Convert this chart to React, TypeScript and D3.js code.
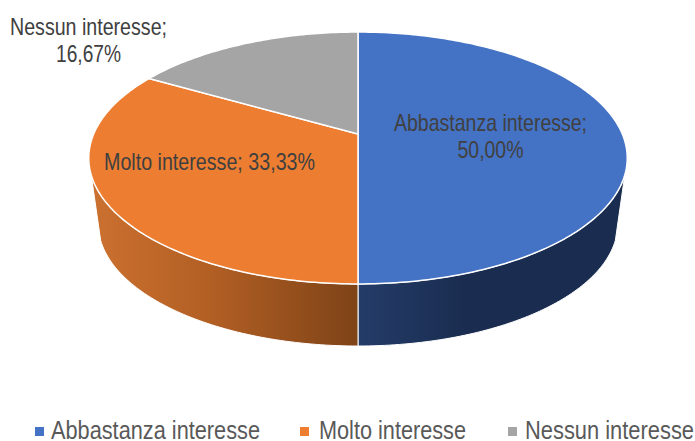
import React from "react";
import * as d3 from "d3";

const categories = ["Abbastanza interesse", "Molto interesse", "Nessun interesse"];
const shares = [50.0, 33.33, 16.67];
const colors = ["#4472C4", "#ED7D31", "#A5A5A5"];

// one text block per slice, lines split where the original wraps
const labelLines = [
  { x: 490.5, y: [131, 158], w: [193, 66] },
  { x: 209.5, y: [170], w: [211] },
  { x: 88.5, y: [35, 62], w: [157, 65] },
];
const legendX = [35, 300, 508];
const legendTextX = [51, 319, 525];
const legendTextW = [209, 147, 169];

const width = 695;
const height = 441;
const cx = 358;

// perspective disc: unit circle -> screen
const tilt = -0.1905;
const top = { ax: 264.3, ay: 121.4, cy: 134 };
const bottom = { ax: 255, ay: 117.8, cy: 200.5 };
const wallStart = (108.5 * Math.PI) / 180; // where the side turns out of view

function project(disc: typeof top, a: number): [number, number] {
  const u = Math.sin(a);
  const v = -Math.cos(a);
  const w = 1 + tilt * v;
  return [cx + (disc.ax * u) / w, disc.cy + (disc.ay * v) / w];
}

function sweep(disc: typeof top, a0: number, a1: number) {
  const n = Math.max(2, Math.ceil(Math.abs(a1 - a0) * 60));
  return d3.range(n + 1).map((i) => project(disc, a0 + ((a1 - a0) * i) / n));
}

const line = d3.line();
const percent = (v: number) => d3.format(".2f")(v).replace(".", ",") + "%";

export default function App() {
  const arcs = d3.pie<number>().sort(null)(shares);
  const center: [number, number] = [cx, top.cy];

  const slices = arcs.map((a) => line([center, ...sweep(top, a.startAngle, a.endAngle)]) + "Z");

  const wall = (a0: number, a1: number) =>
    line([...sweep(top, a0, a1), ...sweep(bottom, a1, a0)]) + "Z";

  const wallBlue = wall(wallStart, arcs[0].endAngle);
  const wallOrange = wall(arcs[1].startAngle, 2 * Math.PI - wallStart);

  return (
    <svg
      width={width}
      height={height}
      style={{ position: "absolute", left: 0, top: 0, background: "#fff" }}
      fontFamily="'Liberation Sans', Arial, sans-serif"
    >
      <defs>
        <linearGradient id="wallOrange" gradientUnits="userSpaceOnUse" x1={90} x2={358} y1={0} y2={0}>
          <stop offset="0" stopColor="#CC7130" />
          <stop offset="0.45" stopColor="#B25F24" />
          <stop offset="1" stopColor="#7E4317" />
        </linearGradient>
        <linearGradient id="wallBlue" gradientUnits="userSpaceOnUse" x1={358} x2={626} y1={0} y2={0}>
          <stop offset="0" stopColor="#243C69" />
          <stop offset="0.4" stopColor="#1A2D50" />
          <stop offset="1" stopColor="#1A2D50" />
        </linearGradient>
      </defs>

      <path d={wallBlue} fill="url(#wallBlue)" stroke="#fff" strokeWidth={1} />
      <path d={wallOrange} fill="url(#wallOrange)" stroke="#fff" strokeWidth={1} />

      {slices.map((d, i) => (
        <path key={categories[i]} d={d} fill={colors[i]} stroke="#fff" strokeWidth={1.5} strokeLinejoin="round" />
      ))}

      {labelLines.map((l, i) => {
        const full = `${categories[i]}; ${percent(shares[i])}`;
        const parts = l.y.length > 1 ? [`${categories[i]};`, percent(shares[i])] : [full];
        return parts.map((t, j) => (
          <text
            key={t}
            x={l.x - l.w[j] / 2}
            y={l.y[j]}
            fontSize={24}
            fill="#404040"
            textLength={l.w[j]}
            lengthAdjust="spacingAndGlyphs"
          >
            {t}
          </text>
        ));
      })}

      {categories.map((c, i) => (
        <g key={c}>
          <rect x={legendX[i]} y={427} width={9} height={9} fill={colors[i]} />
          <text
            x={legendTextX[i]}
            y={439}
            fontSize={26}
            fill="#595959"
            textLength={legendTextW[i]}
            lengthAdjust="spacingAndGlyphs"
          >
            {c}
          </text>
        </g>
      ))}
    </svg>
  );
}
